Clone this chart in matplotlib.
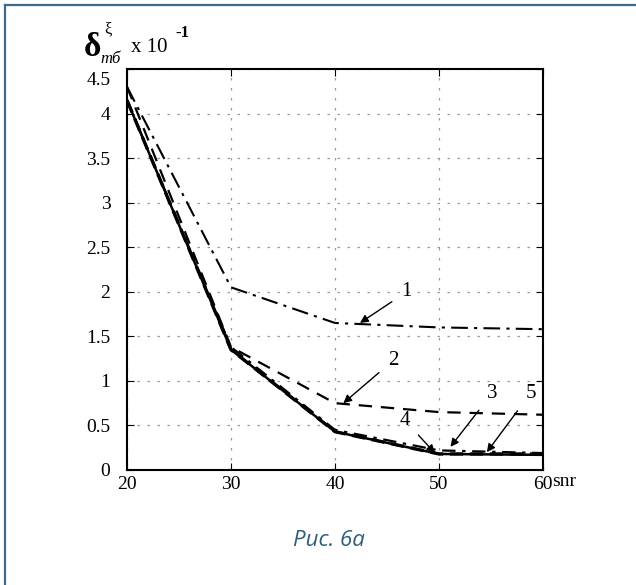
import matplotlib
matplotlib.use("Agg")
import matplotlib.pyplot as plt
from matplotlib.lines import Line2D
import matplotlib.transforms as mtransforms

snr = [20, 30, 40, 50, 60]
curve1 = [4.30, 2.05, 1.65, 1.60, 1.58]
curve2 = [4.30, 1.38, 0.75, 0.65, 0.62]
curve3 = [4.15, 1.38, 0.45, 0.22, 0.19]
curve4 = [4.15, 1.35, 0.43, 0.18, 0.17]
curve5 = [4.15, 1.35, 0.43, 0.18, 0.18]

labels = ["1", "2", "3", "4", "5"]
label_text_xy = [(46.9, 2.0), (45.6, 1.23), (55.1, 0.86), (46.7, 0.56), (58.8, 0.86)]
label_arrow_xy = [(42.4, 1.65), (40.8, 0.75), (51.1, 0.26), (49.6, 0.19), (54.6, 0.20)]

xticks = [20, 30, 40, 50, 60]
yticks = [0, 0.5, 1, 1.5, 2, 2.5, 3, 3.5, 4, 4.5]
ytick_labels = ["0", "0.5", "1", "1.5", "2", "2.5", "3", "3.5", "4", "4.5"]

serif = "Liberation Serif"

fig = plt.figure(figsize=(6.36, 5.85), dpi=100)
fig.patch.set_facecolor("white")

# outer frame: top and left edges only
frame_col = "#3f6a8c"
fig.add_artist(Line2D([5/636, 1.0], [1-5/585, 1-5/585], transform=fig.transFigure,
                      color=frame_col, linewidth=1.6))
fig.add_artist(Line2D([5/636, 5/636], [0.0, 1-5/585], transform=fig.transFigure,
                      color=frame_col, linewidth=1.6))

ax = fig.add_axes([127/636, 1-470/585, 416/636, 401/585])
ax.plot(snr, curve1, color="black", linestyle=(0, (8, 3, 1.5, 3)), linewidth=1.5)
ax.plot(snr, curve2, color="black", linestyle=(0, (6, 4)), linewidth=1.6)
ax.plot(snr, curve3, color="black", linestyle=(0, (6, 3, 1.5, 3)), linewidth=1.6)
ax.plot(snr, curve4, color="black", linestyle="-", linewidth=1.8)
ax.plot(snr, curve5, color="black", linestyle=(0, (4, 2)), linewidth=2.4)

for lab, txy, axy in zip(labels, label_text_xy, label_arrow_xy):
    ax.annotate(lab, xy=axy, xytext=txy, fontsize=15, family=serif,
                ha="center", va="center",
                arrowprops=dict(arrowstyle="-|>", color="black", lw=1.0,
                                mutation_scale=12, shrinkA=6, shrinkB=0))

ax.set_xlim(20, 60)
ax.set_ylim(0, 4.5)
ax.set_xticks(xticks)
ax.set_yticks(yticks)
ax.set_yticklabels(ytick_labels)
ax.tick_params(axis="both", direction="in", top=True, right=True, length=5, labelsize=14)
ax.tick_params(axis="y", pad=12)
ax.tick_params(axis="x", pad=4)
for lab in ax.get_xticklabels() + ax.get_yticklabels():
    lab.set_family(serif)
# MATLAB-style: top y label sits slightly below its tick
top_lab = ax.get_yticklabels()[-1]
top_lab.set_transform(top_lab.get_transform() +
                      mtransforms.ScaledTranslation(0, -9/100, fig.dpi_scale_trans))
ax.grid(True, color="#9a9a9a", linestyle=(0, (2, 6)), linewidth=0.9)
for s in ax.spines.values():
    s.set_linewidth(1.5)

fig.text(552/636, 1-482/585, "snr", fontsize=14, family=serif, ha="left", va="center")

# y label pieces
fig.text(84/636, 1-48/585, "δ", fontsize=24, family=serif, weight="bold", ha="left", va="center")
fig.text(104/636, 1-29/585, "ξ", fontsize=12, family=serif, ha="left", va="center")
fig.text(100/636, 1-59/585, "mб", fontsize=12, family=serif, style="italic", ha="left", va="center")
fig.text(131/636, 1-47/585, "x 10", fontsize=15, family=serif, ha="left", va="center")
fig.text(175/636, 1-33/585, "-1", fontsize=12, family=serif, weight="bold", ha="left", va="center")

fig.text(329/636, 1-541/585, "Рис. 6а", fontsize=16, family="Open Sans", style="italic",
         color="#2d5f7c", ha="center", va="center")

fig.savefig("out.png", dpi=100)
